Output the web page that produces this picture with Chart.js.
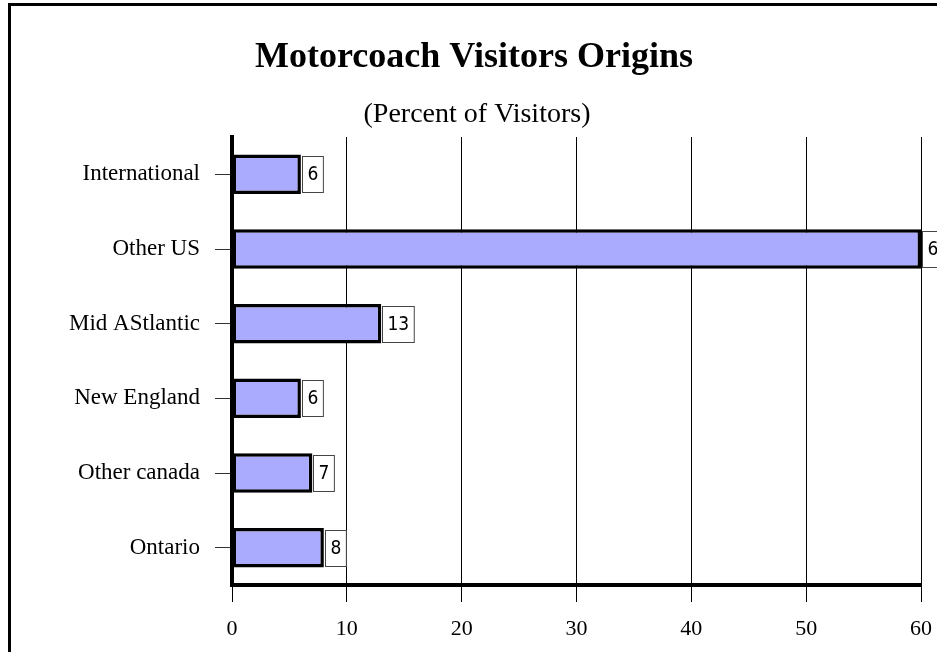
<!DOCTYPE html>
<html>
<head>
<meta charset="utf-8">
<script src="https://cdn.jsdelivr.net/npm/chart.js@4"></script>
<style>
  html, body { margin: 0; padding: 0; background: #fff; }
  #wrap { width: 937px; height: 652px; }
</style>
</head>
<body>
<div id="wrap"><canvas id="chart" width="937" height="652"></canvas></div>
<script>
const categories = ['International', 'Other US', 'Mid AStlantic', 'New England', 'Other canada', 'Ontario'];
const percents = [6, 60, 13, 6, 7, 8];
const xTicks = [0, 10, 20, 30, 40, 50, 60];

const titleText = 'Motorcoach Visitors Origins';
const subtitleText = '(Percent of Visitors)';

const serif = "'Liberation Serif', 'Times New Roman', serif";

// frame + title, drawn behind the chart
const framePlugin = {
  id: 'frame',
  beforeDraw(chart) {
    const ctx = chart.ctx;
    ctx.save();
    ctx.fillStyle = '#fff';
    ctx.fillRect(0, 0, chart.width, chart.height);
    ctx.strokeStyle = '#000';
    ctx.lineWidth = 3;
    ctx.beginPath();
    ctx.moveTo(9.5, chart.height + 5);
    ctx.lineTo(9.5, 4.5);
    ctx.lineTo(chart.width + 5, 4.5);
    ctx.stroke();

    ctx.fillStyle = '#000';
    ctx.textAlign = 'center';
    ctx.textBaseline = 'alphabetic';
    ctx.font = 'bold 36px ' + serif;
    ctx.fillText(titleText, 474, 67);
    ctx.font = '28px ' + serif;
    ctx.fillText(subtitleText, 477, 122);
    ctx.restore();
  }
};

// boxed value labels at the end of each bar
const valueBoxes = {
  id: 'valueBoxes',
  afterDatasetsDraw(chart) {
    const ctx = chart.ctx;
    const meta = chart.getDatasetMeta(0);
    ctx.save();
    ctx.font = "19px 'DejaVu Sans', sans-serif";
    ctx.fontStretch = 'condensed';
    ctx.textAlign = 'center';
    ctx.textBaseline = 'middle';
    meta.data.forEach((bar, i) => {
      const txt = String(percents[i]);
      const w = ctx.measureText(txt).width + 10;
      const x = Math.round(bar.x) + 1.5;
      const y = Math.round(bar.y) - 18 + 0.5;
      ctx.fillStyle = '#fff';
      ctx.fillRect(x, y, w, 36);
      ctx.strokeStyle = '#444';
      ctx.lineWidth = 1;
      ctx.strokeRect(x, y, w, 36);
      ctx.fillStyle = '#000';
      ctx.fillText(txt, x + w / 2, bar.y + 1);
    });
    ctx.restore();
  }
};

new Chart(document.getElementById('chart'), {
  type: 'bar',
  data: {
    labels: categories,
    datasets: [{
      data: percents,
      backgroundColor: '#aaaaff',
      borderColor: '#000',
      borderWidth: 3.5,
      borderSkipped: false,
      barPercentage: 0.53,
      categoryPercentage: 1
    }]
  },
  options: {
    indexAxis: 'y',
    responsive: false,
    animation: false,
    layout: { padding: { left: 10, right: 16, top: 137, bottom: 0 } },
    plugins: {
      legend: { display: false },
      title: { display: false },
      tooltip: { enabled: false }
    },
    scales: {
      x: {
        min: 0,
        max: 60,
        afterBuildTicks(scale) { scale.ticks = xTicks.map(v => ({ value: v })); },
        afterFit(scale) {
          scale.height = 67;
          scale.paddingLeft = 0;
          scale.paddingRight = 0;
        },
        grid: { color: '#000', lineWidth: 1, tickLength: 17, drawTicks: true },
        border: { display: true, color: '#000', width: 4 },
        ticks: { color: '#000', padding: 14, maxRotation: 0, font: { family: serif, size: 22 } }
      },
      y: {
        afterFit(scale) { scale.width = 222; },
        grid: { drawOnChartArea: false, offset: false, color: '#333', tickLength: 17 },
        border: { display: true, color: '#000', width: 4 },
        ticks: { color: '#000', padding: 15, font: { family: serif, size: 23 } }
      }
    }
  },
  plugins: [framePlugin, valueBoxes]
});
</script>
</body>
</html>
